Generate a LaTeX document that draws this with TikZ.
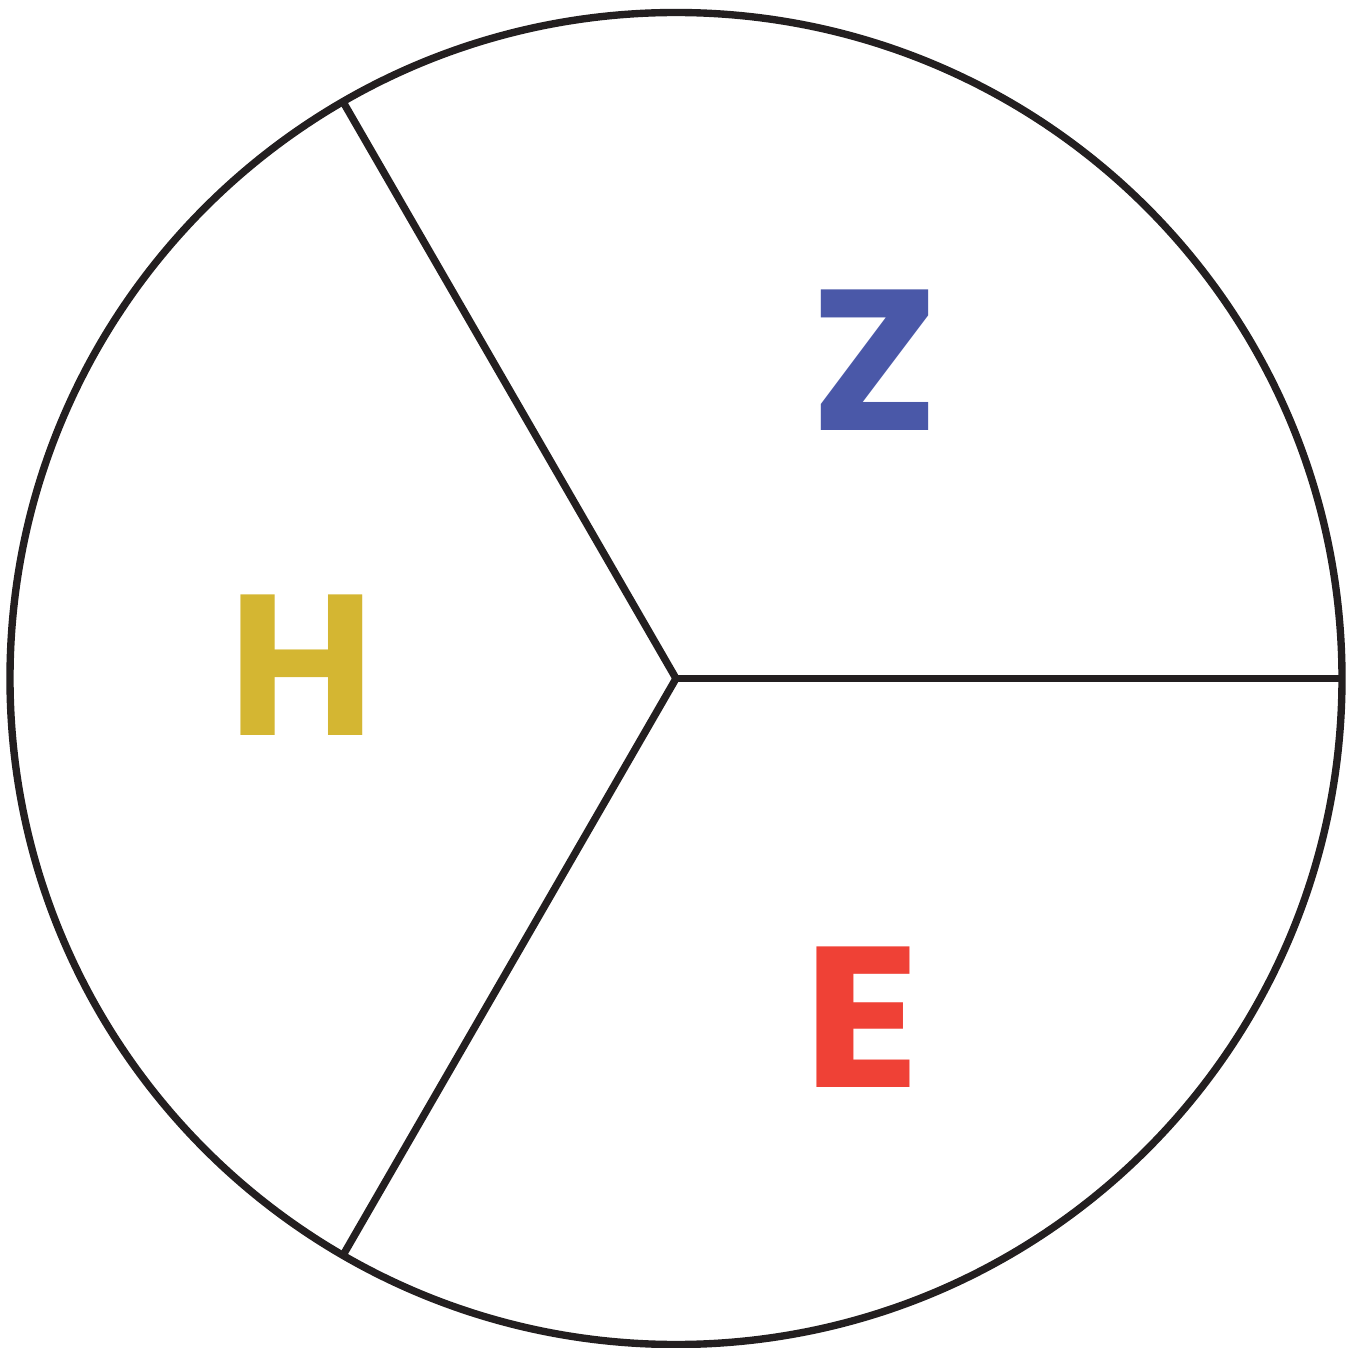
\documentclass[tikz,border=0pt]{standalone}
\usepackage{fontspec}
\setmainfont{Poppins}
\usepackage{xcolor}
\usepackage{tikz}
\usetikzlibrary{calc}
\definecolor{WheelInk}{RGB}{35,31,32}
\definecolor{WheelBlue}{RGB}{74,88,168}
\definecolor{WheelYellow}{RGB}{212,182,50}
\definecolor{WheelRed}{RGB}{239,65,54}

\begin{document}
\begin{tikzpicture}[
    rim/.style={draw=WheelInk, line width=2.1pt},
    spoke/.style={draw=WheelInk, line width=2.1pt},
    letter/.style={inner sep=0pt, font=\fontsize{57}{57}\selectfont\bfseries}
  ]
    \useasboundingbox (0,0) rectangle (13.56,13.47);
    \coordinate (hub) at (6.76,6.685);
    \draw[rim] (hub) circle (6.66);
    \coordinate (east) at ($(hub)+(0:6.66)$);
    \coordinate (upper) at ($(hub)+(120:6.66)$);
    \coordinate (lower) at ($(hub)+(240:6.66)$);
    \foreach \p in {east,upper,lower} {\draw[spoke] (hub) -- (\p);}
    \node[letter, text=WheelBlue, xscale=1.08] (zlabel) at (8.75,9.87) {Z};
    \node[letter, text=WheelYellow] (hlabel) at (3.02,6.82) {H};
    \node[letter, text=WheelRed, xscale=1.08] (elabel) at (8.62,3.30) {E};
  \end{tikzpicture}
\end{document}
